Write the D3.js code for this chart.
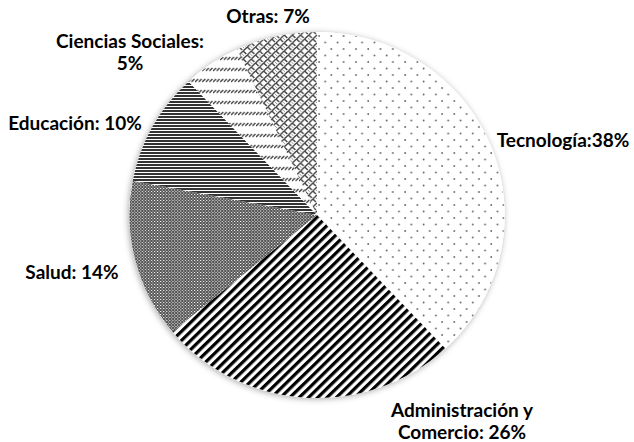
<!DOCTYPE html>
<html>
<head>
<meta charset="utf-8">
<script src="https://cdn.jsdelivr.net/npm/d3@7"></script>
<style>
  body { margin: 0; background: #fff; }
  text { font-family: Lato, "Open Sans", sans-serif; font-weight: bold; }
</style>
</head>
<body>
<div id="chart"></div>
<script>
// Data
const categories = ['Tecnología', 'Administración y Comercio', 'Salud', 'Educación', 'Ciencias Sociales', 'Otras'];
const values = [38, 26, 14, 10, 5, 7];
const labelText = [['Tecnología:38%'], ['Administración y', 'Comercio: 26%'], ['Salud: 14%'], ['Educación: 10%'], ['Ciencias Sociales:', '5%'], ['Otras: 7%']];

let width = 634;
let height = 442;
let cx = 317, cy = 215;
let radius = 183;

let svg = d3.select('#chart')
    .append('svg')
    .attr('width', width)
    .attr('height', height);

let defs = svg.append('defs');

// soft shadow round the pie
let shadow = defs.append('filter').attr('id', 'shadow')
    .attr('x', '-20%').attr('y', '-20%').attr('width', '140%').attr('height', '140%');
shadow.append('feDropShadow')
    .attr('dx', -1).attr('dy', 1)
    .attr('stdDeviation', 3)
    .attr('flood-color', '#000')
    .attr('flood-opacity', 0.35);

// fill patterns, one per slice
function pattern(id, w, h) {
    let p = defs.append('pattern')
        .attr('id', id)
        .attr('patternUnits', 'userSpaceOnUse')
        .attr('width', w)
        .attr('height', h);
    p.append('rect').attr('width', w).attr('height', h).attr('fill', '#fff');
    return p;
}

// dots
let p0 = pattern('p0', 12, 13);
p0.append('circle').attr('cx', 2).attr('cy', 3).attr('r', 0.9).attr('fill', '#666');
p0.append('circle').attr('cx', 8).attr('cy', 9.5).attr('r', 0.9).attr('fill', '#666');

// wide upward diagonal
let p1 = pattern('p1', 6.4, 6.4).attr('patternTransform', 'rotate(45)');
p1.append('rect').attr('width', 3.2).attr('height', 6.4).attr('fill', '#000');

// small grid
let p2 = pattern('p2', 3, 3);
p2.select('rect').attr('fill', '#555');
p2.append('rect').attr('width', 1).attr('height', 1).attr('fill', '#fff');
p2.append('rect').attr('x', 1.5).attr('y', 1.5).attr('width', 1).attr('height', 1).attr('fill', '#eee');

// narrow horizontal
let p3 = pattern('p3', 4, 3);
p3.append('rect').attr('width', 4).attr('height', 2).attr('fill', '#333');

// dashed upward diagonal
let p4 = pattern('p4', 3.5, 11);
p4.append('path').attr('d', 'M0,10 L3,7').attr('stroke', '#444').attr('stroke-width', 1.3);

// weave
let p5 = pattern('p5', 8, 8);
p5.append('path')
    .attr('d', 'M0,4 L4,0 M4,8 L8,4 M4,0 L7,3 M0,4 L3,7 M-1,1 L1,-1 M7,9 L9,7')
    .attr('fill', 'none')
    .attr('stroke', '#444')
    .attr('stroke-width', 1.4);

let fills = ['url(#p0)', 'url(#p1)', 'url(#p2)', 'url(#p3)', 'url(#p4)', 'url(#p5)'];

let pie = d3.pie().sort(null).value(d => d.value);
let arc = d3.arc().innerRadius(0).outerRadius(radius);

let data = categories.map((c, i) => ({ name: c, value: values[i], lines: labelText[i], fill: fills[i] }));

let g = svg.append('g')
    .attr('transform', `translate(${cx},${cy}) scale(1.025,1)`);

// white disc that carries the shadow
g.append('circle')
    .attr('r', radius)
    .attr('fill', '#fff')
    .attr('filter', 'url(#shadow)');

g.selectAll('.slice')
    .data(pie(data))
    .enter()
    .append('path')
    .attr('class', 'slice')
    .attr('d', arc)
    .attr('fill', d => d.data.fill);

// label placement, offsets from the pie centre (baseline of first line)
let labelPos = [[246, -68], [145, 202], [-245, 64], [-242, -85], [-187, -167], [-49, -192]];

let labels = svg.append('g')
    .attr('transform', `translate(${cx},${cy})`);

data.forEach((d, i) => {
    let t = labels.append('text')
        .attr('x', labelPos[i][0])
        .attr('y', labelPos[i][1])
        .attr('text-anchor', 'middle')
        .style('font-size', '19px')
        .style('fill', '#000');
    d.lines.forEach((line, j) => {
        t.append('tspan')
            .attr('x', labelPos[i][0])
            .attr('dy', j === 0 ? 0 : 22)
            .text(line);
    });
});
</script>
</body>
</html>
